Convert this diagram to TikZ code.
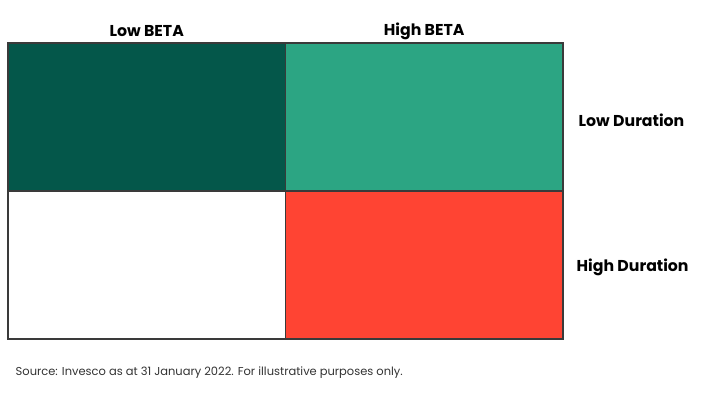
\documentclass[tikz,border=0pt]{standalone}
\usepackage{fontspec}
\setmainfont{Poppins}
\usetikzlibrary{positioning}
\definecolor{darkgreen}{HTML}{04574A}
\definecolor{teal}{HTML}{2CA583}
\definecolor{redorange}{HTML}{FF4433}
\definecolor{gridline}{HTML}{3A3A3A}

\begin{document}
\begin{tikzpicture}[
  x=0.75pt, y=-0.75pt,
  every node/.style={font=\small},
  cell/.style={draw=gridline, line width=0.9pt, rectangle, outer sep=0pt, minimum width=208.1pt, minimum height=111pt, inner sep=0pt},
  head/.style={font=\fontsize{11.8}{13}\bfseries},
  note/.style={font=\fontsize{8.6}{10}\selectfont, text=black!80}
]
  \useasboundingbox (0,0) rectangle (709,395);

  % the four quadrants
  \node[cell, fill=darkgreen, anchor=north west] (lowlow) at (8,43) {};
  \node[cell, fill=teal, right=0pt of lowlow] (highlow) {};
  \node[cell, fill=white, below=0pt of lowlow] (lowhigh) {};
  \node[cell, fill=redorange, below=0pt of highlow] (highhigh) {};

  % column and row titles
  \node[head] (lowbeta) at (lowlow.north |- 0,31) {Low BETA};
  \node[head] (highbeta) at (highlow.north |- 0,31) {High BETA};
  \node[head, anchor=west] (lowdur) at (574,120) {Low Duration};
  \node[head, anchor=west] (highdur) at (572,267) {High Duration};

  \node[note, anchor=west] (source) at (11,373) {Source: Invesco as at 31 January 2022. For illustrative purposes only.};
\end{tikzpicture}
\end{document}
